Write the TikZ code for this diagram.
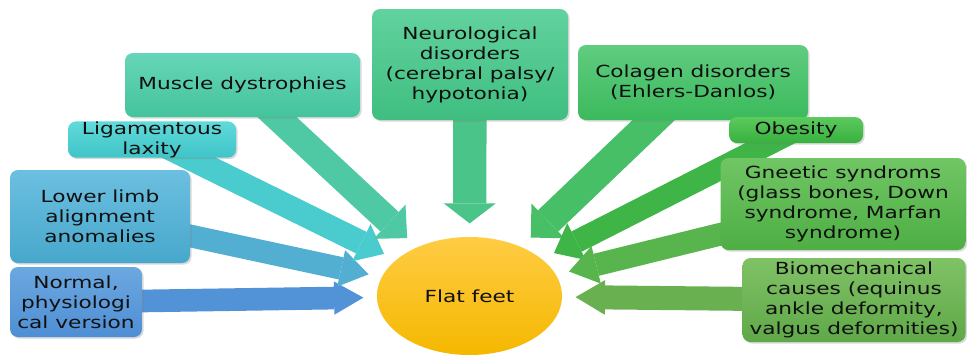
\documentclass[tikz,border=0pt]{standalone}
\usepackage{fontspec}
\setmainfont{DejaVu Sans}[FakeStretch=1.3]
\usepackage{xcolor}
\usepackage{tikz}
\usetikzlibrary{arrows.meta,shapes.geometric,shadows,backgrounds}

\definecolor{nrmA}{HTML}{6CA8E0}\definecolor{nrmB}{HTML}{4E8ED4}
\definecolor{llbA}{HTML}{6CBFE0}\definecolor{llbB}{HTML}{47A8CC}
\definecolor{ligA}{HTML}{60DADA}\definecolor{ligB}{HTML}{40C4C8}
\definecolor{musA}{HTML}{66D6B8}\definecolor{musB}{HTML}{44C49C}
\definecolor{neuA}{HTML}{62D29E}\definecolor{neuB}{HTML}{3FBE80}
\definecolor{colA}{HTML}{60CC80}\definecolor{colB}{HTML}{3BBA5C}
\definecolor{obeA}{HTML}{5CCA5C}\definecolor{obeB}{HTML}{37B040}
\definecolor{genA}{HTML}{70C664}\definecolor{genB}{HTML}{4EAE44}
\definecolor{bioA}{HTML}{80C266}\definecolor{bioB}{HTML}{5FA848}
\definecolor{ffA}{HTML}{FFCC44}\definecolor{ffB}{HTML}{F5B800}
\definecolor{inkc}{HTML}{101010}

\begin{document}
\begin{tikzpicture}[
  x=0.75pt, y=-0.75pt,
  font=\fontsize{12.5}{15}\selectfont,
  cause/.style={
    rectangle, rounded corners=6pt, align=center, inner sep=1pt,
    text=inkc, drop shadow={shadow xshift=1.2pt, shadow yshift=-1.2pt, opacity=0.3}
  },
  tint/.style 2 args={top color=#1, bottom color=#2},
  push/.style n args={4}{
    draw=#1, line width=#2, shorten >=10pt,
    -{Triangle[length=#3, width=#4, line width=0pt]}
  }
]
\useasboundingbox (0,0) rectangle (967,358);

\node[cause, tint={nrmA}{nrmB}, minimum width=99pt, minimum height=52.5pt] (nrm) at (76,302) {Normal,\\physiologi\\cal version};
\node[cause, tint={llbA}{llbB}, minimum width=135pt, minimum height=69.75pt] (llb) at (100,216.5) {Lower limb\\alignment\\anomalies};
\node[cause, tint={ligA}{ligB}, minimum width=126pt, minimum height=26.25pt, inner sep=0pt] (lig) at (152,139.5) {Ligamentous\\laxity};
\node[cause, tint={musA}{musB}, minimum width=176.25pt, minimum height=48pt] (mus) at (242.5,85) {Muscle dystrophies};
\node[cause, tint={neuA}{neuB}, minimum width=147pt, minimum height=83.25pt] (neu) at (470,64.5) {Neurological\\disorders\\(cerebral palsy/\\hypotonia)};
\node[cause, tint={colA}{colB}, minimum width=172.5pt, minimum height=56.25pt] (col) at (693,82.5) {Colagen disorders\\(Ehlers-Danlos)};
\node[cause, tint={obeA}{obeB}, minimum width=100.5pt, minimum height=19.5pt] (obe) at (796,130) {Obesity};
\node[cause, tint={genA}{genB}, minimum width=183.75pt, minimum height=69pt] (gen) at (843,204) {Gneetic syndroms\\(glass bones, Down\\syndrome, Marfan\\syndrome)};
\node[cause, tint={bioA}{bioB}, minimum width=167.25pt, minimum height=63pt] (bio) at (854,300) {Biomechanical\\causes (equinus\\ankle deformity,\\valgus deformities)};

\node[ellipse, tint={ffA}{ffB}, text=inkc, minimum width=138.75pt, minimum height=88.5pt] (ff) at (469.5,296) {Flat feet};

\begin{scope}[on background layer]
  \draw[push={nrmB!85!nrmA}{17pt}{22pt}{25pt}] (nrm.center) -- (ff);
  \draw[push={llbB!70!llbA}{17pt}{21pt}{28pt}] (llb.center) -- (ff);
  \draw[push={ligB!70!ligA}{18pt}{19pt}{31pt}] (lig.center) -- (ff);
  \draw[push={musB!70!musA}{20pt}{18pt}{35pt}] (mus.center) -- (ff);
  \draw[push={neuB!70!neuA}{25pt}{15pt}{39pt}] (neu.center) -- (ff);
  \draw[push={colB!70!colA}{22pt}{18pt}{36pt}] (col.center) -- (ff);
  \draw[push={obeB!80!obeA}{17pt}{19pt}{31pt}] (obe.center) -- (ff);
  \draw[push={genB!70!genA}{17pt}{21pt}{29pt}] (gen.center) -- (ff);
  \draw[push={bioB!70!bioA}{18pt}{22pt}{26pt}] (bio.center) -- (ff);
\end{scope}

\end{tikzpicture}
\end{document}
